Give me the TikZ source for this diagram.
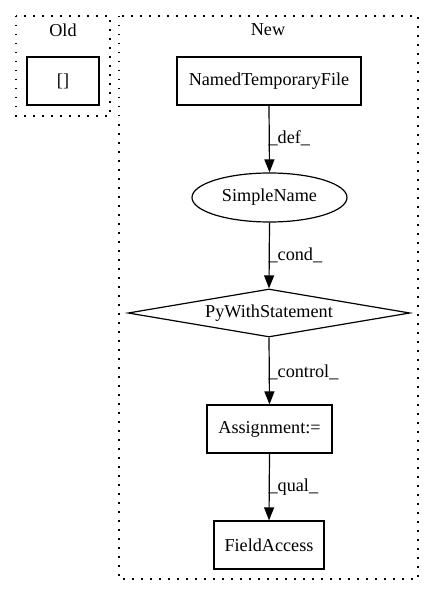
\documentclass[tikz,border=0pt]{standalone}
\usepackage{fontspec}
\setmainfont{Liberation Serif}
\usetikzlibrary{shapes.geometric,arrows.meta}
\begin{document}
\begin{tikzpicture}[x=1bp,y=-1bp,
  every node/.style={font=\fontsize{18.2bp}{22bp}\selectfont, line width=1.2bp, inner sep=0pt},
  boxnode/.style={draw, rectangle, minimum height=48bp},
  ellnode/.style={draw, ellipse, minimum width=155bp, minimum height=49bp},
  dianode/.style={draw, diamond, aspect=5.875, minimum width=282bp, minimum height=48bp},
  cluster/.style={draw, line width=1.2bp, dash pattern=on 1.5bp off 7.5bp},
  edge/.style={line width=1.2bp, -{Triangle[length=13bp,width=10bp]}},
  elabel/.style={anchor=west}
]
\useasboundingbox (0,0) rectangle (435,596);
\draw[cluster] (16,16) rectangle (110,116);
\draw[cluster] (119,16) rectangle (418,579);
\node (oldlbl) at (63,30) {Old};
\node (newlbl) at (268,30) {New};
\node[boxnode, minimum width=72bp] (old) at (63,81) {[]};
\node[boxnode, minimum width=184bp] (ntf) at (269,81) {NamedTemporaryFile};
\node[ellnode] (sn) at (269.5,197.5) {SimpleName};
\node[dianode] (pws) at (269,313) {PyWithStatement};
\node[boxnode, minimum width=125bp] (asg) at (269.5,429) {Assignment:=};
\node[boxnode, minimum width=110bp] (fa) at (269,545) {FieldAccess};
\draw[edge] (ntf.south) -- (sn.north);
\node[elabel] (l1) at (268,138) {\_def\_};
\draw[edge] (sn.south) -- (pws.north);
\node[elabel] (l2) at (268,255) {\_cond\_};
\draw[edge] (pws.south) -- (asg.north);
\node[elabel] (l3) at (268,372) {\_control\_};
\draw[edge] (asg.south) -- (fa.north);
\node[elabel] (l4) at (268,487) {\_qual\_};
\end{tikzpicture}
\end{document}
